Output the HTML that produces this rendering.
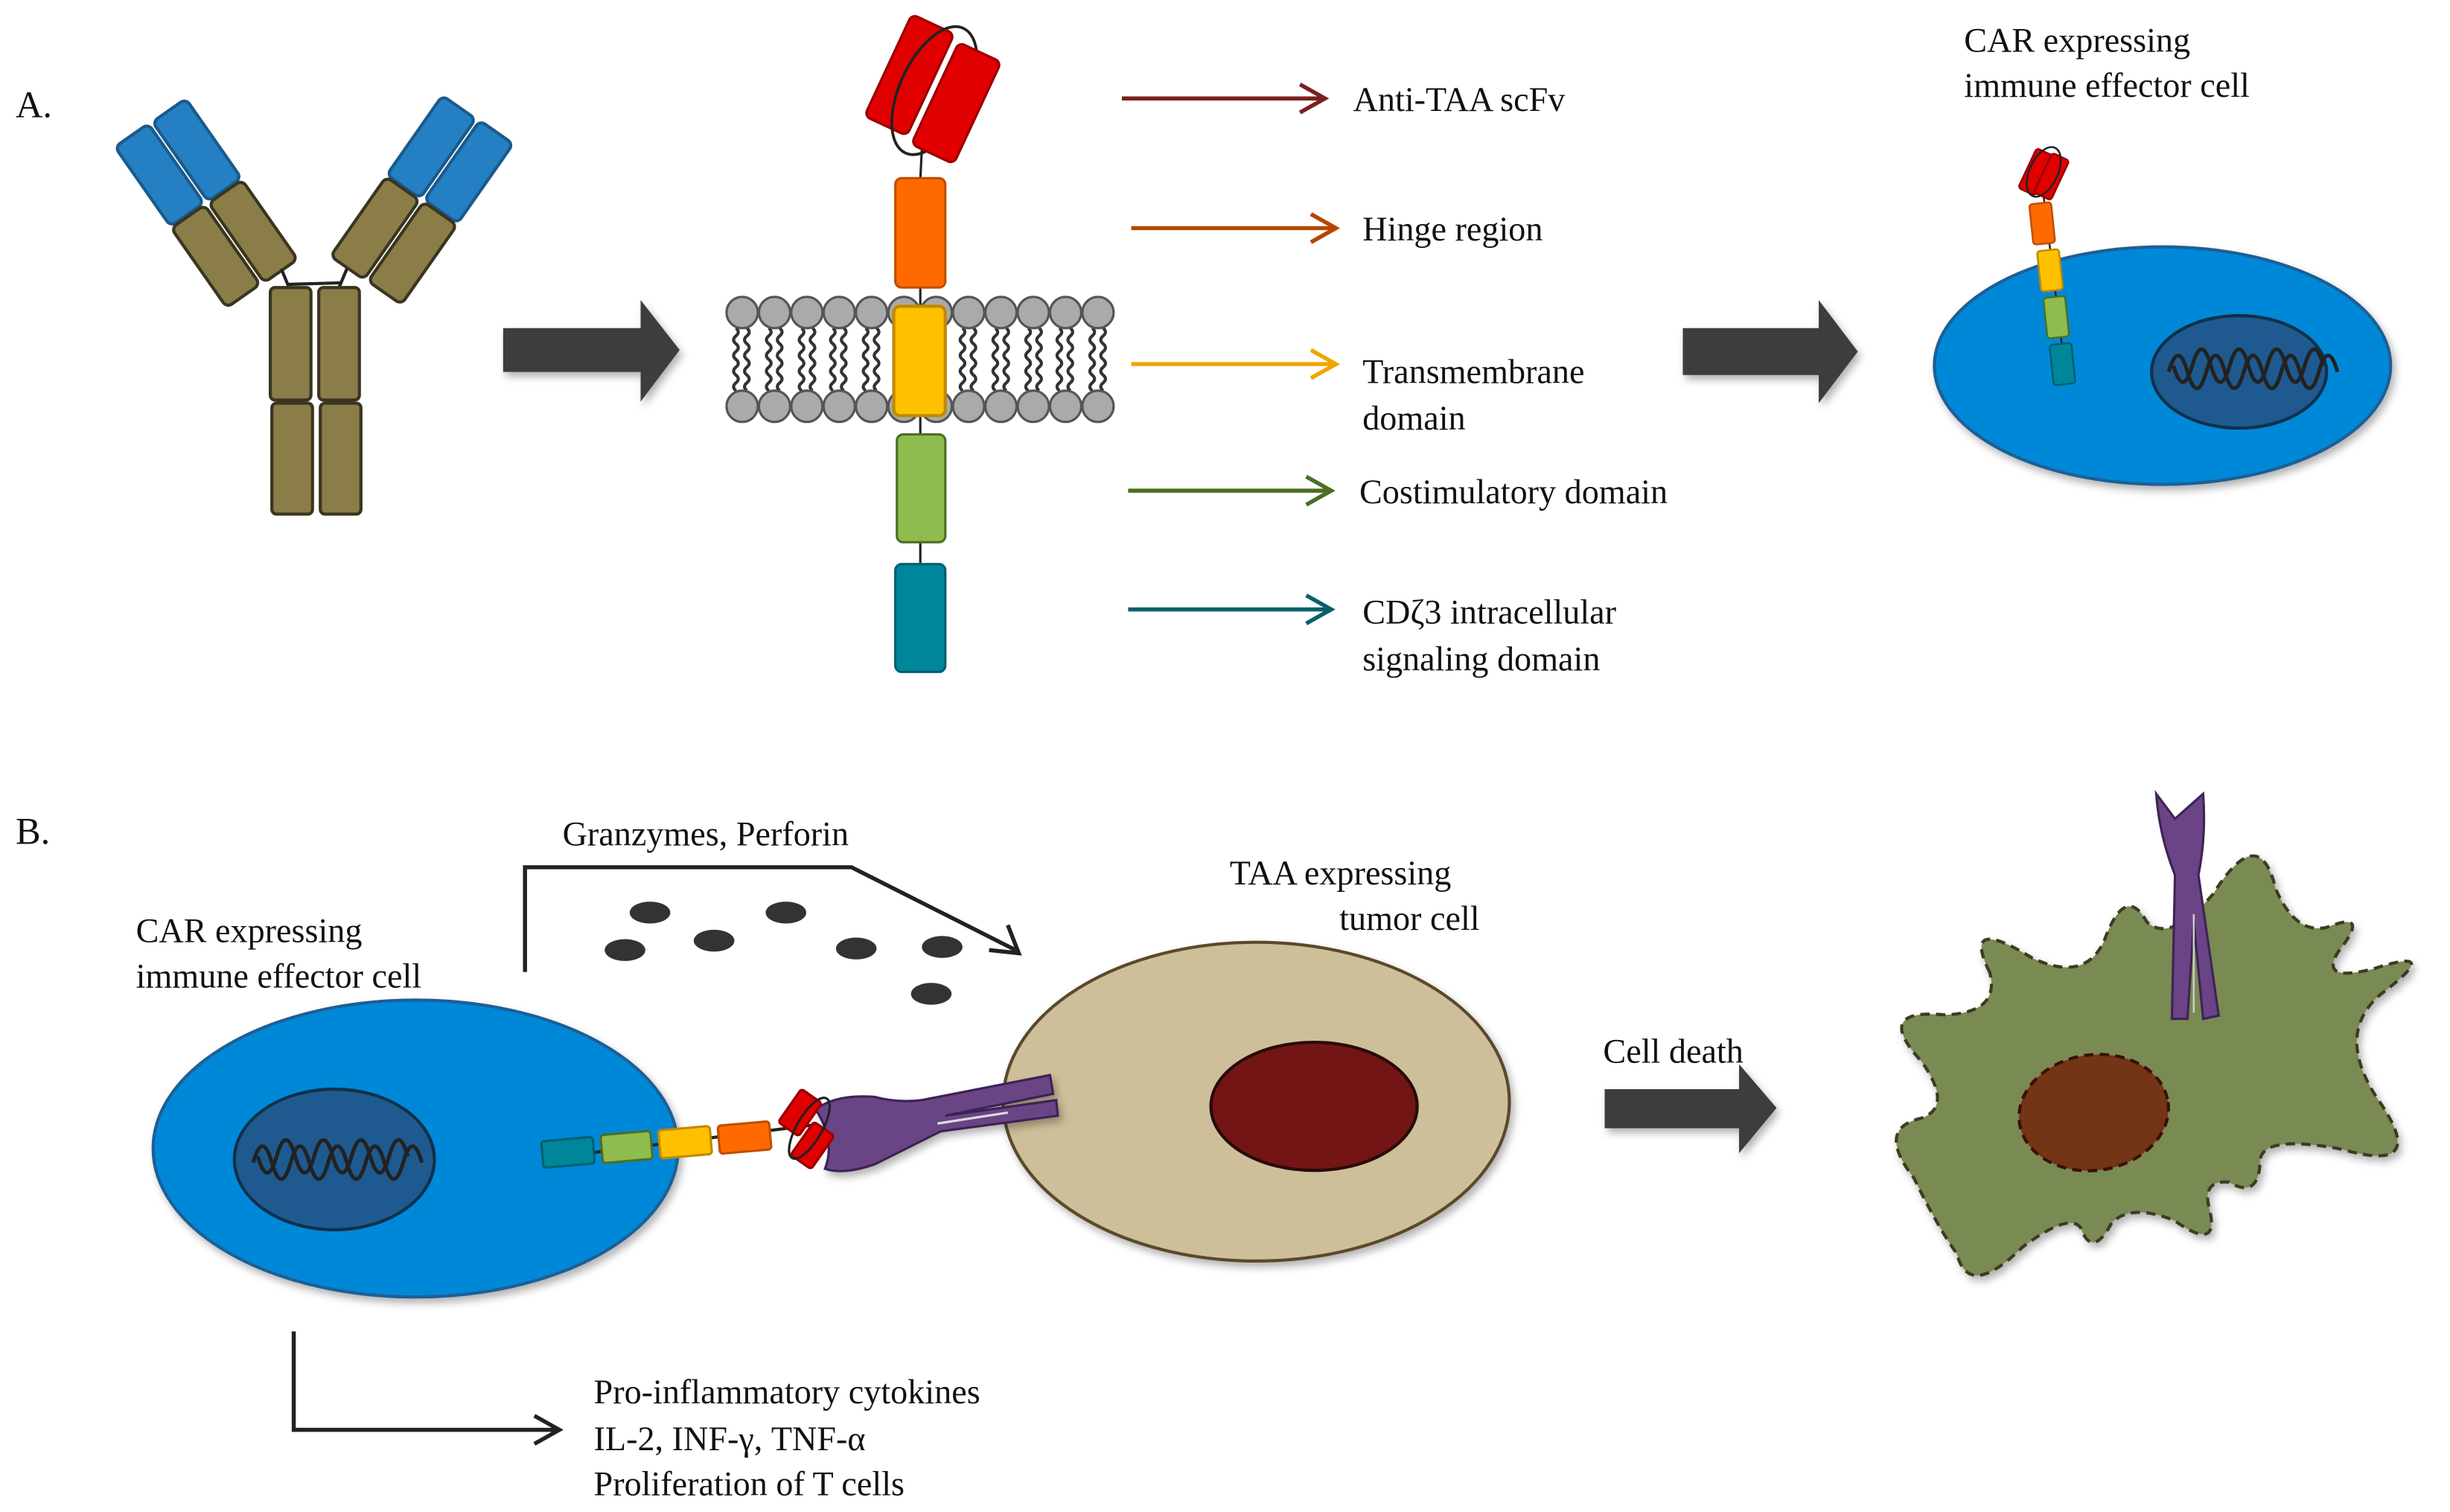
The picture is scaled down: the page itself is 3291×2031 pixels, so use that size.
<!DOCTYPE html>
<html><head><meta charset="utf-8"><style>
html,body{margin:0;padding:0;background:#fff}
svg{display:block}
text{font-family:"Liberation Serif","DejaVu Serif",serif;font-size:22px;fill:#111}
</style></head><body>
<svg width="3291" height="2031" viewBox="0 0 1568 967.6" preserveAspectRatio="none" xmlns="http://www.w3.org/2000/svg" font-family="Liberation Serif, serif">
<defs>
<filter id="sh" x="-20%" y="-20%" width="150%" height="150%"><feDropShadow dx="2" dy="3" stdDeviation="2.5" flood-color="#000" flood-opacity="0.3"/></filter>
<path id="wave" d="M0,0 q3,2.5 0,5 q-3,2.5 0,5 q3,2.5 0,5 q-3,2.5 0,5 q3,2.5 0,5 q-3,2.5 0,5 q3,2.5 0,5 q-3,2.5 0,5" fill="none" stroke="#333" stroke-width="2"/>
<path id="dna" d="M0,0 c4,-14 8,-14 12,0 s8,14 12,0 s8,-14 12,0 s8,14 12,0 s8,-14 12,0 s8,14 12,0 s8,-14 12,0 s8,14 12,0 s8,-14 12,0 M3,-4 c4,14 8,14 12,0 s8,-14 12,0 s8,14 12,0 s8,-14 12,0 s8,14 12,0 s8,-14 12,0 s8,14 12,0 s8,-14 12,0" fill="none" stroke="#222" stroke-width="2.4"/>
</defs>

<text x="10" y="75" style="font-size:24px">A.</text>
<text x="10" y="540" style="font-size:24px">B.</text>

<!-- Antibody -->
<g stroke="#3a3520" stroke-width="2">
<g transform="translate(102,112) rotate(-35)"><rect x="-13" y="-31" width="26" height="62" rx="4" fill="#2580c3" stroke="#1a5a8c"/></g>
<g transform="translate(126,96) rotate(-35)"><rect x="-13" y="-31" width="26" height="62" rx="4" fill="#2580c3" stroke="#1a5a8c"/></g>
<g transform="translate(138,164) rotate(-35)"><rect x="-13" y="-31" width="26" height="62" rx="4" fill="#8a7d48"/></g>
<g transform="translate(162,148) rotate(-35)"><rect x="-13" y="-31" width="26" height="62" rx="4" fill="#8a7d48"/></g>
<g transform="translate(300,110) rotate(35)"><rect x="-13" y="-31" width="26" height="62" rx="4" fill="#2580c3" stroke="#1a5a8c"/></g>
<g transform="translate(276,94) rotate(35)"><rect x="-13" y="-31" width="26" height="62" rx="4" fill="#2580c3" stroke="#1a5a8c"/></g>
<g transform="translate(264,162) rotate(35)"><rect x="-13" y="-31" width="26" height="62" rx="4" fill="#8a7d48"/></g>
<g transform="translate(240,146) rotate(35)"><rect x="-13" y="-31" width="26" height="62" rx="4" fill="#8a7d48"/></g>
<path d="M180,172 L185,184 M222,172 L217,184 M184,182 L218,181" fill="none" stroke="#222" stroke-width="2"/>
<rect x="173" y="184" width="26" height="72" rx="3" fill="#8a7d48"/>
<rect x="204" y="184" width="26" height="72" rx="3" fill="#8a7d48"/>
<rect x="174" y="258" width="26" height="71" rx="3" fill="#8a7d48"/>
<rect x="205" y="258" width="26" height="71" rx="3" fill="#8a7d48"/>
</g>

<!-- block arrows -->
<g fill="#3d3d3d" filter="url(#sh)">
<path d="M322,210 L410,210 L410,192 L435,224 L410,257 L410,238 L322,238 Z"/>
<path d="M1077,210 L1164,210 L1164,192 L1189,225 L1164,258 L1164,240 L1077,240 Z"/>
<path d="M1027,697 L1113,697 L1113,681 L1137,709 L1113,738 L1113,722 L1027,722 Z"/>
</g>

<!-- CAR -->
<g>
<line x1="590" y1="95" x2="589" y2="115" stroke="#222" stroke-width="1.5"/>
<line x1="589" y1="183" x2="589" y2="280" stroke="#222" stroke-width="1.5"/>
<line x1="589" y1="345" x2="589" y2="362" stroke="#222" stroke-width="1.5"/>
<g transform="translate(582,48) rotate(25)"><rect x="-15" y="-36" width="30" height="72" rx="4" fill="#e00000" stroke="#9a0000" stroke-width="1.5"/></g>
<ellipse cx="598" cy="58" rx="22" ry="44" transform="rotate(25 598 58)" fill="none" stroke="#222" stroke-width="1.8"/>
<g transform="translate(612,66) rotate(25)"><rect x="-15" y="-36" width="30" height="72" rx="4" fill="#e00000" stroke="#9a0000" stroke-width="1.5"/></g>
<rect x="573" y="114" width="32" height="70" rx="4" fill="#ff6a00" stroke="#c04e00" stroke-width="1.5"/>
</g>
<g>
<g>
<use href="#wave" x="471" y="210"/><use href="#wave" x="478" y="210"/>
<use href="#wave" x="492" y="210"/><use href="#wave" x="499" y="210"/>
<use href="#wave" x="513" y="210"/><use href="#wave" x="520" y="210"/>
<use href="#wave" x="533" y="210"/><use href="#wave" x="540" y="210"/>
<use href="#wave" x="554" y="210"/><use href="#wave" x="561" y="210"/>
<use href="#wave" x="616" y="210"/><use href="#wave" x="623" y="210"/>
<use href="#wave" x="637" y="210"/><use href="#wave" x="644" y="210"/>
<use href="#wave" x="658" y="210"/><use href="#wave" x="665" y="210"/>
<use href="#wave" x="678" y="210"/><use href="#wave" x="685" y="210"/>
<use href="#wave" x="699" y="210"/><use href="#wave" x="706" y="210"/>
</g>
<g fill="#aaa" stroke="#555" stroke-width="1.5">
<circle cx="475" cy="200" r="10"/><circle cx="495.7" cy="200" r="10"/><circle cx="516.4" cy="200" r="10"/><circle cx="537.1" cy="200" r="10"/><circle cx="557.8" cy="200" r="10"/><circle cx="578.5" cy="200" r="10"/><circle cx="599.2" cy="200" r="10"/><circle cx="619.9" cy="200" r="10"/><circle cx="640.6" cy="200" r="10"/><circle cx="661.3" cy="200" r="10"/><circle cx="682" cy="200" r="10"/><circle cx="702.7" cy="200" r="10"/>
<circle cx="475" cy="260" r="10"/><circle cx="495.7" cy="260" r="10"/><circle cx="516.4" cy="260" r="10"/><circle cx="537.1" cy="260" r="10"/><circle cx="557.8" cy="260" r="10"/><circle cx="578.5" cy="260" r="10"/><circle cx="599.2" cy="260" r="10"/><circle cx="619.9" cy="260" r="10"/><circle cx="640.6" cy="260" r="10"/><circle cx="661.3" cy="260" r="10"/><circle cx="682" cy="260" r="10"/><circle cx="702.7" cy="260" r="10"/>
</g>
</g>
<rect x="572" y="196" width="33" height="70" rx="4" fill="#ffc000" stroke="#c08a00" stroke-width="2"/>
<rect x="574" y="278" width="31" height="69" rx="4" fill="#8fbc4f" stroke="#4c6e25" stroke-width="1.5"/>
<rect x="573" y="361" width="32" height="69" rx="4" fill="#00869b" stroke="#006070" stroke-width="1.5"/>

<!-- label arrows -->
<g fill="none" stroke-width="2.6">
<g stroke="#7b1f1f"><line x1="718" y1="63" x2="848" y2="63"/><polyline points="832,54 848,63 832,72"/></g>
<g stroke="#b34700"><line x1="724" y1="146" x2="855" y2="146"/><polyline points="839,137 855,146 839,155"/></g>
<g stroke="#f0a500"><line x1="724" y1="233" x2="855" y2="233"/><polyline points="839,224 855,233 839,242"/></g>
<g stroke="#4a6f23"><line x1="722" y1="314" x2="852" y2="314"/><polyline points="836,305 852,314 836,323"/></g>
<g stroke="#0b5f6b"><line x1="722" y1="390" x2="852" y2="390"/><polyline points="836,381 852,390 836,399"/></g>
</g>
<text x="866" y="71">Anti-TAA scFv</text>
<text x="872" y="154">Hinge region</text>
<text x="872" y="245">Transmembrane</text>
<text x="872" y="275">domain</text>
<text x="870" y="322">Costimulatory domain</text>
<text x="872" y="399">CDζ3 intracellular</text>
<text x="872" y="429">signaling domain</text>

<!-- right cell A -->
<text x="1257" y="33">CAR expressing</text>
<text x="1257" y="62">immune effector cell</text>
<ellipse cx="1384" cy="234" rx="146" ry="76" fill="#0088d8" stroke="#1f5e96" stroke-width="2" filter="url(#sh)"/>
<ellipse cx="1433" cy="238" rx="56" ry="36" fill="#1e5a8f" stroke="#10304a" stroke-width="2"/>
<use href="#dna" x="1388" y="238"/>
<g stroke-width="1.2">
<line x1="1306" y1="110" x2="1322" y2="240" stroke="#222"/>
<g transform="translate(1303,110) rotate(25)"><rect x="-6" y="-14" width="12" height="28" rx="2" fill="#e00000" stroke="#900"/></g>
<g transform="translate(1313,113) rotate(25)"><rect x="-6" y="-14" width="12" height="28" rx="2" fill="#e00000" stroke="#900"/></g>
<ellipse cx="1308" cy="110" rx="9" ry="17" transform="rotate(25 1308 110)" fill="none" stroke="#222"/>
<g transform="rotate(-6 1307 143)"><rect x="1300" y="130" width="14" height="26" rx="2" fill="#ff6a00" stroke="#c04e00"/></g>
<g transform="rotate(-6 1312 173)"><rect x="1305" y="160" width="14" height="26" rx="2" fill="#ffc000" stroke="#c08a00"/></g>
<g transform="rotate(-6 1316 203)"><rect x="1309" y="190" width="14" height="26" rx="2" fill="#8fbc4f" stroke="#4c6e25"/></g>
<g transform="rotate(-6 1320 233)"><rect x="1313" y="220" width="14" height="26" rx="2" fill="#00869b" stroke="#006070"/></g>
</g>

<!-- B section -->
<text x="360" y="541">Granzymes, Perforin</text>
<g fill="none" stroke="#222" stroke-width="2.6">
<polyline points="336,622 336,555 545,555 650,608"/>
<polyline points="633,608 652,610 645,592"/>
<polyline points="188,852 188,915 358,915"/>
<polyline points="342,906 358,915 342,924"/>
</g>
<g fill="#333">
<ellipse cx="416" cy="584" rx="13" ry="7"/><ellipse cx="503" cy="584" rx="13" ry="7"/><ellipse cx="457" cy="602" rx="13" ry="7"/><ellipse cx="400" cy="608" rx="13" ry="7"/><ellipse cx="548" cy="607" rx="13" ry="7"/><ellipse cx="603" cy="606" rx="13" ry="7"/><ellipse cx="596" cy="636" rx="13" ry="7"/>
</g>
<text x="87" y="603">CAR expressing</text>
<text x="87" y="632">immune effector cell</text>
<ellipse cx="266" cy="735" rx="168" ry="95" fill="#0088d8" stroke="#1f5e96" stroke-width="2" filter="url(#sh)"/>
<ellipse cx="214" cy="742" rx="64" ry="45" fill="#1e5a8f" stroke="#10304a" stroke-width="2"/>
<use href="#dna" x="162" y="744"/>

<ellipse cx="804" cy="705" rx="162" ry="102" fill="#cdbf99" stroke="#5a4a2a" stroke-width="2" filter="url(#sh)"/>
<ellipse cx="841" cy="708" rx="66" ry="41" fill="#731515" stroke="#2a0a0a" stroke-width="2"/>
<text x="787" y="566">TAA expressing</text>
<text x="947" y="595" text-anchor="end">tumor cell</text>
<text x="1026" y="680">Cell death</text>

<!-- CAR horizontal -->
<line x1="360" y1="740" x2="520" y2="720" stroke="#222" stroke-width="2"/>
<g stroke-width="1.5">
<g transform="rotate(-5 363 737)"><rect x="347" y="729" width="33" height="17" rx="2" fill="#00869b" stroke="#006070"/></g>
<g transform="rotate(-5 401 734)"><rect x="385" y="725" width="32" height="18" rx="2" fill="#8fbc4f" stroke="#4c6e25"/></g>
<g transform="rotate(-5 438 731)"><rect x="422" y="722" width="33" height="18" rx="2" fill="#ffc000" stroke="#c08a00"/></g>
<g transform="rotate(-5 476 728)"><rect x="460" y="719" width="33" height="18" rx="2" fill="#ff6a00" stroke="#c04e00"/></g>
</g>
<!-- purple receptor -->
<path d="M522,710 Q535,700 560,702 Q575,706 590,704 L672,688 L674,700 L605,714 L676,704 L677,714 L602,724 Q580,735 560,745 Q540,752 528,748 Q535,730 522,710 Z" fill="#6a4486" stroke="#3e2454" stroke-width="1.5" filter="url(#sh)"/>
<line x1="600" y1="719" x2="645" y2="712" stroke="#ddd" stroke-width="1.5"/>
<g stroke-width="1.5">
<g transform="translate(512,712) rotate(35)"><rect x="-8" y="-13" width="16" height="26" rx="2" fill="#e00000" stroke="#900"/></g>
<g transform="translate(520,733) rotate(35)"><rect x="-8" y="-13" width="16" height="26" rx="2" fill="#e00000" stroke="#900"/></g>
<ellipse cx="518" cy="722" rx="8" ry="22" transform="rotate(30 518 722)" fill="none" stroke="#222"/>
</g>

<!-- dead cell -->
<path d="M1273.5,622.5 Q1255,585 1300.5,613 Q1334,629 1346.5,602.5 Q1360,565 1374,590 Q1389,604 1416.5,572 Q1446,525 1456.5,569 Q1469,598 1489,593.5 Q1518,582 1496.5,609 Q1484,629 1519,620 Q1565,605 1524,636 Q1494,661 1521.5,703 Q1556,752 1499,735.5 Q1449,726 1446.5,742 Q1446,768 1426.5,756.5 Q1409,755 1414,773.5 Q1421,802 1391.5,781 Q1364,770 1351.5,782.5 Q1339,806 1331.5,785.5 Q1324,776 1294.5,798 Q1260,832 1252.5,802.5 Q1240,785 1225,754 Q1200,722 1230,715.5 Q1250,708 1230,679.5 Q1198,645 1245,649.5 Q1280,648 1273.5,622.5 Z" fill="#7a8a52" stroke="#3e3a22" stroke-width="2" stroke-dasharray="6,4" stroke-linejoin="round" filter="url(#sh)"/>
<ellipse cx="1340" cy="712" rx="48" ry="37" transform="rotate(-8 1340 712)" fill="#733515" stroke="#3a0f0a" stroke-width="2" stroke-dasharray="6,4"/>
<path d="M1380,508 L1392,524 L1410,508 Q1412,535 1407,560 L1420,650 L1410,652 L1404,590 L1400,652 L1390,652 L1392,560 Q1382,535 1380,508 Z" fill="#6a4486" stroke="#3e2454" stroke-width="1.5"/>
<line x1="1404" y1="585" x2="1404" y2="648" stroke="#ccc" stroke-width="1.2"/>

<text x="380" y="898">Pro-inflammatory cytokines</text>
<text x="380" y="928">IL-2, INF-γ, TNF-α</text>
<text x="380" y="957">Proliferation of T cells</text>
</svg>
</body></html>
